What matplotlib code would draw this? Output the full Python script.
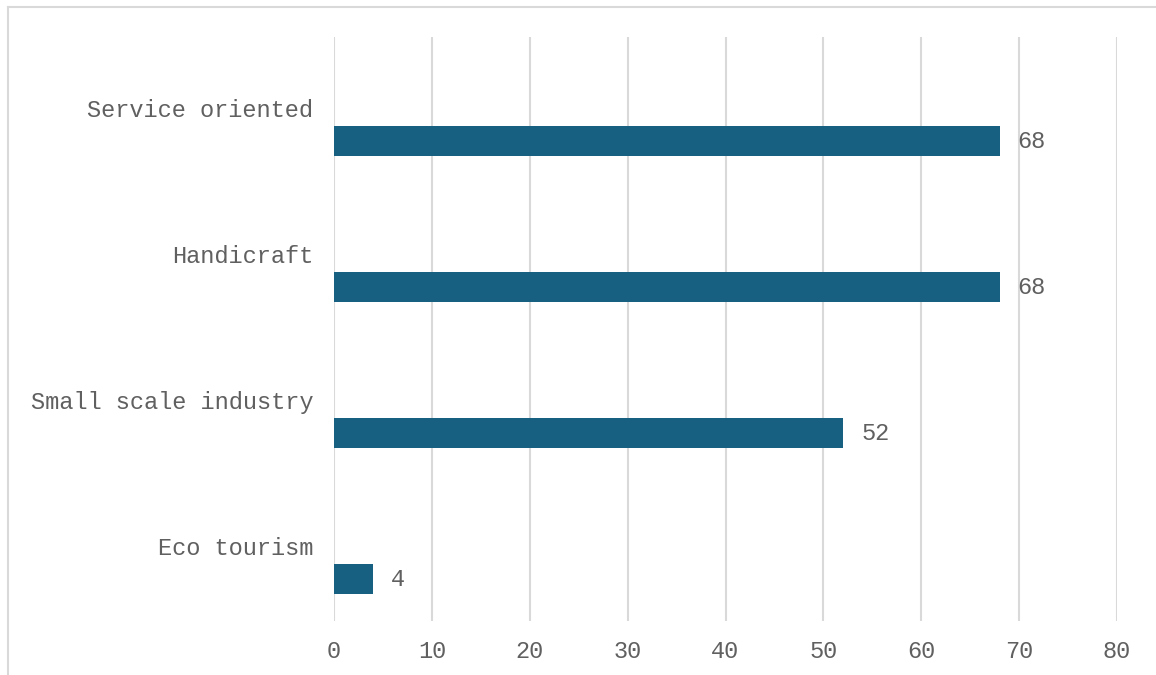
import matplotlib.pyplot as plt
from matplotlib.lines import Line2D

categories = ["Eco tourism", "Small scale industry", "Handicraft", "Service oriented"]
values = [4, 52, 68, 68]

bar_color = "#176082"
text_color = "#606060"
grid_color = "#d9d9d9"

plt.rcParams['font.family'] = ['Liberation Mono', 'DejaVu Sans Mono']

fig = plt.figure(figsize=(11.56, 6.75), dpi=100)
ax = fig.add_axes([334/1156, 1-621/675, (1117-334)/1156, (621-37)/675])

pos = list(range(len(categories)))
bar_pos = [p - 0.213 for p in pos]
bars = ax.barh(bar_pos, values, height=0.2, color=bar_color, zorder=3)

for b, v in zip(bars, values):
    ax.annotate(str(v), (b.get_width(), b.get_y() + b.get_height()/2),
                xytext=(13, 0), textcoords="offset points",
                va="center", ha="left", fontsize=17, color=text_color)

ax.set_xlim(0, 80)
ax.set_ylim(-0.5, 3.5)
ax.set_xticks(range(0, 81, 10))
ax.set_yticks([p + 0.015 for p in pos])
ax.set_yticklabels(categories)
ax.tick_params(axis="both", length=0, labelsize=17, labelcolor=text_color)
ax.tick_params(axis="y", pad=15)
ax.tick_params(axis="x", pad=14)
ax.grid(axis="x", color=grid_color, linewidth=1.5, zorder=0)
for s in ax.spines.values():
    s.set_visible(False)

# light frame round the chart area
fig.add_artist(Line2D([8/1156, 1], [1-7/675, 1-7/675], color=grid_color, linewidth=1.5))
fig.add_artist(Line2D([8/1156, 8/1156], [0, 1-7/675], color=grid_color, linewidth=1.5))

fig.savefig("out.png", dpi=100)
